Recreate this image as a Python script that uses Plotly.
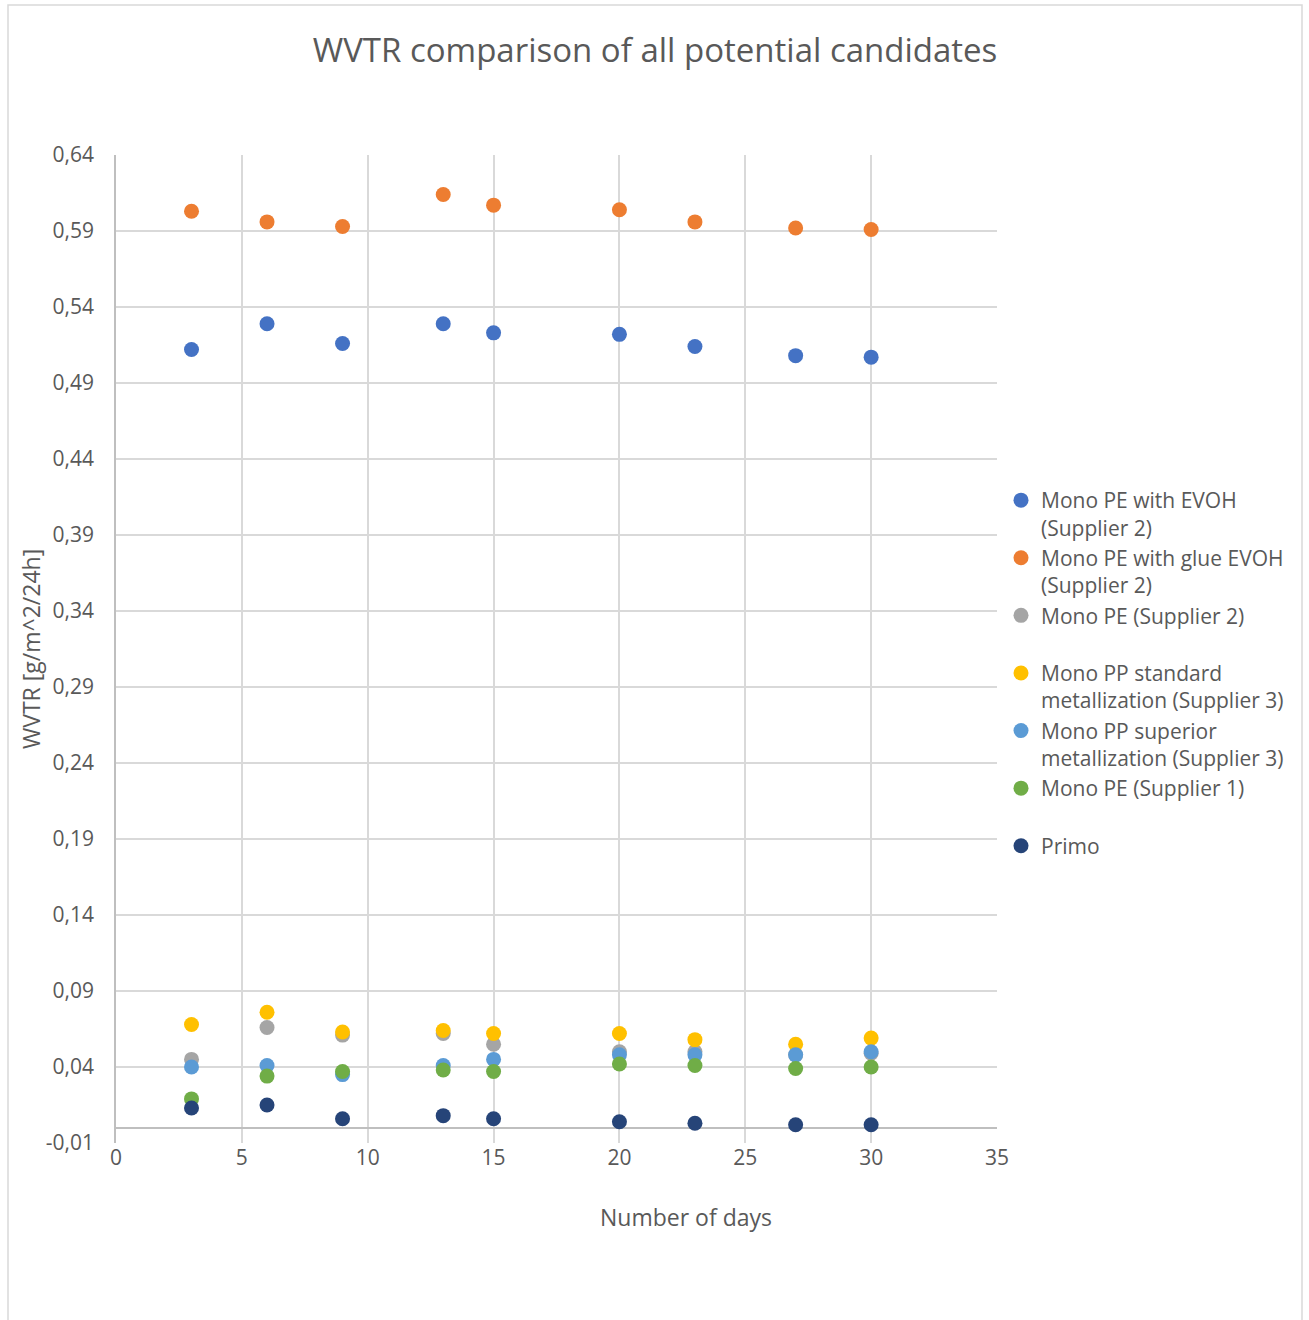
import plotly.graph_objects as go

days = [3, 6, 9, 13, 15, 20, 23, 27, 30]

series_names = [
    "Mono PE with EVOH<br>(Supplier 2)",
    "Mono PE with glue EVOH<br>(Supplier 2)",
    "Mono PE (Supplier 2)<br> ",
    "Mono PP standard<br>metallization (Supplier 3)",
    "Mono PP superior<br>metallization (Supplier 3)",
    "Mono PE (Supplier 1)<br> ",
    "Primo",
]
series_colors = ["#4472C4", "#ED7D31", "#A5A5A5", "#FFC000", "#5B9BD5", "#70AD47", "#264478"]

pe_evoh_s2 = [0.512, 0.529, 0.516, 0.529, 0.523, 0.522, 0.514, 0.508, 0.507]
pe_glue_evoh_s2 = [0.603, 0.596, 0.593, 0.614, 0.607, 0.604, 0.596, 0.592, 0.591]
pe_s2 = [0.045, 0.066, 0.061, 0.062, 0.055, 0.050, 0.050, 0.048, 0.049]
pp_standard_s3 = [0.068, 0.076, 0.063, 0.064, 0.062, 0.062, 0.058, 0.055, 0.059]
pp_superior_s3 = [0.040, 0.041, 0.035, 0.041, 0.045, 0.048, 0.048, 0.048, 0.050]
pe_s1 = [0.019, 0.034, 0.037, 0.038, 0.037, 0.042, 0.041, 0.039, 0.040]
primo = [0.013, 0.015, 0.006, 0.008, 0.006, 0.004, 0.003, 0.002, 0.002]

all_series = [pe_evoh_s2, pe_glue_evoh_s2, pe_s2, pp_standard_s3, pp_superior_s3, pe_s1, primo]

y_tickvals = [0.64, 0.59, 0.54, 0.49, 0.44, 0.39, 0.34, 0.29, 0.24, 0.19, 0.14, 0.09, 0.04, -0.01]
y_ticktext = ["0,64", "0,59", "0,54", "0,49", "0,44", "0,39", "0,34", "0,29", "0,24", "0,19",
              "0,14", "0,09", "0,04", "-0,01"]
x_tickvals = [0, 5, 10, 15, 20, 25, 30, 35]

FONT = "Open Sans"
TXT = "#595959"
GRID = "#d9d9d9"

L, T = 116, 155
PW, PH = 881, 988
W, H = 1309, 1320


def px_x(px):
    return (px - L) / PW


def px_y(py):
    return (T + PH - py) / PH


fig = go.Figure()
for name, color, vals in zip(series_names, series_colors, all_series):
    fig.add_trace(go.Scatter(
        x=days, y=vals, mode="markers", name=name,
        marker=dict(color=color, size=15, line=dict(width=0)),
    ))

fig.update_layout(
    width=W, height=H,
    paper_bgcolor="white", plot_bgcolor="white",
    margin=dict(l=L, r=W - L - PW, t=T, b=H - T - PH),
    font=dict(family=FONT, color=TXT, size=21),
    title=dict(text="WVTR comparison of all potential candidates",
               x=655 / W, xref="container", y=1 - 50 / H, yref="container",
               xanchor="center", yanchor="middle",
               font=dict(family=FONT, size=33, color=TXT)),
    showlegend=True,
    legend=dict(x=px_x(1001), xanchor="left", y=px_y(480), yanchor="top",
                valign="top", font=dict(family=FONT, size=21, color=TXT),
                tracegroupgap=0, itemsizing="trace",
                bgcolor="rgba(0,0,0,0)"),
    xaxis=dict(range=[0, 35], tickvals=x_tickvals, showgrid=True, gridcolor=GRID, gridwidth=1.5,
               zeroline=False, showline=False, ticks="", tickfont=dict(size=21, color=TXT)),
    yaxis=dict(range=[-0.01, 0.64], tickvals=y_tickvals, ticktext=y_ticktext,
               showgrid=True, gridcolor=GRID, gridwidth=1.5,
               zeroline=True, zerolinecolor="#bfbfbf", zerolinewidth=1.5,
               showline=True, linecolor="#bfbfbf", linewidth=1.5,
               ticks="", ticklabelstandoff=16, tickfont=dict(size=21, color=TXT)),
    shapes=[dict(type="rect", xref="paper", yref="paper",
                 x0=px_x(8), x1=px_x(1302),
                 y0=px_y(1340), y1=px_y(5),
                 line=dict(color=GRID, width=1.5), fillcolor="rgba(0,0,0,0)", layer="below")],
    annotations=[
        dict(text="Number of days", xref="paper", yref="paper",
             x=px_x(686), y=px_y(1217),
             xanchor="center", yanchor="middle", showarrow=False,
             font=dict(family=FONT, size=23, color=TXT)),
        dict(text="WVTR [g/m^2/24h]", xref="paper", yref="paper",
             x=px_x(31), y=px_y(649), textangle=-90,
             xanchor="center", yanchor="middle", showarrow=False,
             font=dict(family=FONT, size=23, color=TXT)),
    ],
)

fig.write_html("out.html", config={"displayModeBar": False},
               post_script="document.body.style.margin='0px';document.body.style.overflow='hidden';")
